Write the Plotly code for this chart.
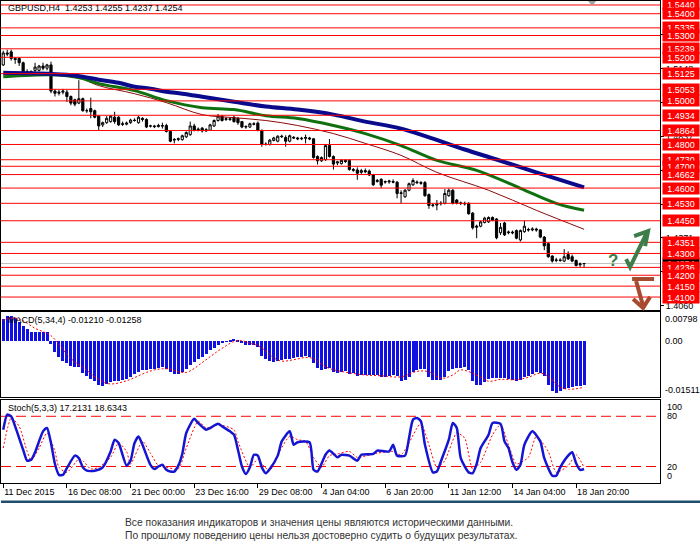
import plotly.graph_objects as go

W, H = 700, 552

# ---- data ----
bars = list(range(147))

opens = [
    1.5165, 1.5220, 1.5225, 1.5195, 1.5195, 1.5175, 1.5135, 1.5130, 1.5140, 1.5140,
    1.5160, 1.5150, 1.5165, 1.5045, 1.5035, 1.5040, 1.5040, 1.5020, 1.5005, 1.4990,
    1.5010, 1.4955, 1.4965, 1.4955, 1.4930, 1.4890, 1.4900, 1.4905, 1.4925, 1.4925,
    1.4895, 1.4893, 1.4900, 1.4912, 1.4900, 1.4920, 1.4915, 1.4885, 1.4885, 1.4882,
    1.4887, 1.4887, 1.4860, 1.4820, 1.4823, 1.4822, 1.4835, 1.4845, 1.4885, 1.4865,
    1.4875, 1.4862, 1.4865, 1.4885, 1.4910, 1.4930, 1.4915, 1.4918, 1.4925, 1.4920,
    1.4905, 1.4880, 1.4880, 1.4895, 1.4898, 1.4865, 1.4802, 1.4800, 1.4818, 1.4815,
    1.4838, 1.4832, 1.4815, 1.4833, 1.4830, 1.4826, 1.4828, 1.4830, 1.4826, 1.4745,
    1.4725, 1.4730, 1.4795, 1.4745, 1.4715, 1.4712, 1.4727, 1.4727, 1.4685, 1.4683,
    1.4672, 1.4680, 1.4678, 1.4660, 1.4630, 1.4640, 1.4630, 1.4628, 1.4630, 1.4627,
    1.4575, 1.4560, 1.4590, 1.4615, 1.4628, 1.4625, 1.4625, 1.4570, 1.4520, 1.4522,
    1.4528, 1.4530, 1.4565, 1.4590, 1.4545, 1.4532, 1.4530, 1.4530, 1.4485, 1.4420,
    1.4425, 1.4442, 1.4445, 1.4465, 1.4458, 1.4395, 1.4440, 1.4395, 1.4398, 1.4405,
    1.4362, 1.4400, 1.4410, 1.4408, 1.4412, 1.4408, 1.4375, 1.4345, 1.4288, 1.4268,
    1.4270, 1.4265, 1.4295, 1.4285, 1.4268, 1.4248, 1.4253,
]
highs = [
    1.5230, 1.5235, 1.5235, 1.5200, 1.5200, 1.5180, 1.5145, 1.5140, 1.5175, 1.5165,
    1.5175, 1.5170, 1.5180, 1.5055, 1.5050, 1.5055, 1.5050, 1.5025, 1.5010, 1.5095,
    1.5015, 1.4965, 1.5015, 1.4960, 1.4935, 1.4905, 1.4930, 1.4935, 1.4950, 1.4930,
    1.4905, 1.4905, 1.4918, 1.4920, 1.4930, 1.4925, 1.4920, 1.4890, 1.4890, 1.4895,
    1.4900, 1.4895, 1.4862, 1.4830, 1.4832, 1.4845, 1.4860, 1.4905, 1.4895, 1.4878,
    1.4880, 1.4875, 1.4895, 1.4915, 1.4940, 1.4935, 1.4925, 1.4925, 1.4932, 1.4925,
    1.4908, 1.4888, 1.4900, 1.4902, 1.4905, 1.4868, 1.4810, 1.4825, 1.4835, 1.4842,
    1.4845, 1.4842, 1.4845, 1.4838, 1.4835, 1.4835, 1.4845, 1.4835, 1.4830, 1.4750,
    1.4745, 1.4800, 1.4825, 1.4750, 1.4725, 1.4732, 1.4732, 1.4732, 1.4692, 1.4695,
    1.4688, 1.4690, 1.4685, 1.4665, 1.4642, 1.4645, 1.4635, 1.4638, 1.4640, 1.4632,
    1.4590, 1.4595, 1.4625, 1.4645, 1.4635, 1.4632, 1.4632, 1.4575, 1.4530, 1.4545,
    1.4540, 1.4595, 1.4598, 1.4595, 1.4550, 1.4538, 1.4538, 1.4535, 1.4490, 1.4432,
    1.4450, 1.4468, 1.4470, 1.4470, 1.4462, 1.4440, 1.4445, 1.4405, 1.4405, 1.4410,
    1.4410, 1.4450, 1.4418, 1.4420, 1.4418, 1.4412, 1.4380, 1.4350, 1.4292, 1.4280,
    1.4278, 1.4320, 1.4310, 1.4295, 1.4272, 1.4258, 1.4255,
]
lows = [
    1.5160, 1.5205, 1.5185, 1.5170, 1.5160, 1.5120, 1.5115, 1.5125, 1.5130, 1.5135,
    1.5140, 1.5140, 1.5035, 1.5020, 1.5025, 1.5030, 1.4995, 1.4980, 1.4975, 1.4985,
    1.4950, 1.4945, 1.4920, 1.4920, 1.4865, 1.4880, 1.4895, 1.4900, 1.4895, 1.4885,
    1.4885, 1.4888, 1.4895, 1.4905, 1.4895, 1.4905, 1.4875, 1.4878, 1.4875, 1.4878,
    1.4873, 1.4855, 1.4810, 1.4805, 1.4815, 1.4818, 1.4830, 1.4840, 1.4860, 1.4860,
    1.4855, 1.4858, 1.4862, 1.4880, 1.4905, 1.4905, 1.4908, 1.4908, 1.4900, 1.4890,
    1.4875, 1.4872, 1.4875, 1.4888, 1.4860, 1.4790, 1.4795, 1.4795, 1.4815, 1.4810,
    1.4830, 1.4790, 1.4810, 1.4825, 1.4820, 1.4820, 1.4805, 1.4820, 1.4735, 1.4708,
    1.4720, 1.4725, 1.4740, 1.4685, 1.4705, 1.4708, 1.4715, 1.4680, 1.4675, 1.4638,
    1.4665, 1.4668, 1.4655, 1.4610, 1.4625, 1.4600, 1.4620, 1.4620, 1.4622, 1.4553,
    1.4530, 1.4555, 1.4585, 1.4610, 1.4618, 1.4615, 1.4560, 1.4505, 1.4512, 1.4498,
    1.4520, 1.4525, 1.4560, 1.4525, 1.4525, 1.4522, 1.4520, 1.4478, 1.4410, 1.4370,
    1.4420, 1.4438, 1.4440, 1.4448, 1.4365, 1.4385, 1.4380, 1.4388, 1.4388, 1.4365,
    1.4355, 1.4395, 1.4400, 1.4402, 1.4400, 1.4370, 1.4315, 1.4280, 1.4258, 1.4260,
    1.4262, 1.4260, 1.4270, 1.4260, 1.4240, 1.4238, 1.4237,
]
closes = [
    1.5220, 1.5215, 1.5195, 1.5190, 1.5175, 1.5130, 1.5130, 1.5135, 1.5155, 1.5160,
    1.5150, 1.5165, 1.5045, 1.5035, 1.5040, 1.5045, 1.5020, 1.4990, 1.4985, 1.5010,
    1.4955, 1.4955, 1.4950, 1.4925, 1.4885, 1.4900, 1.4920, 1.4930, 1.4905, 1.4890,
    1.4893, 1.4898, 1.4912, 1.4910, 1.4925, 1.4915, 1.4880, 1.4885, 1.4882, 1.4887,
    1.4885, 1.4860, 1.4815, 1.4823, 1.4826, 1.4840, 1.4855, 1.4885, 1.4865, 1.4870,
    1.4862, 1.4868, 1.4890, 1.4910, 1.4930, 1.4910, 1.4918, 1.4915, 1.4905, 1.4900,
    1.4880, 1.4882, 1.4895, 1.4893, 1.4865, 1.4802, 1.4800, 1.4820, 1.4830, 1.4838,
    1.4836, 1.4815, 1.4840, 1.4830, 1.4826, 1.4828, 1.4832, 1.4826, 1.4740, 1.4725,
    1.4740, 1.4795, 1.4745, 1.4710, 1.4720, 1.4727, 1.4722, 1.4685, 1.4682, 1.4668,
    1.4680, 1.4675, 1.4660, 1.4615, 1.4635, 1.4613, 1.4628, 1.4632, 1.4627, 1.4575,
    1.4578, 1.4590, 1.4620, 1.4635, 1.4625, 1.4622, 1.4565, 1.4520, 1.4522, 1.4528,
    1.4530, 1.4575, 1.4590, 1.4530, 1.4532, 1.4530, 1.4528, 1.4482, 1.4418, 1.4425,
    1.4445, 1.4462, 1.4465, 1.4452, 1.4372, 1.4420, 1.4385, 1.4398, 1.4395, 1.4370,
    1.4405, 1.4425, 1.4408, 1.4412, 1.4408, 1.4375, 1.4335, 1.4285, 1.4265, 1.4270,
    1.4268, 1.4285, 1.4275, 1.4265, 1.4245, 1.4252, 1.4254,
]

# moving averages (sampled along the bars)
ma_blue_x = [0, 12, 16, 20, 24, 29, 33, 37, 41, 45, 50, 58, 66, 74, 83, 91, 100, 108, 116, 124, 134, 146]
ma_blue = [1.5129, 1.5124, 1.5120, 1.5111, 1.5097, 1.5083, 1.5065, 1.5056, 1.5042, 1.5033, 1.5019,
           1.4996, 1.4974, 1.4960, 1.4937, 1.4905, 1.4873, 1.4827, 1.4777, 1.4731, 1.4672, 1.4603]
ma_green_x = [0, 12, 16, 20, 24, 33, 41, 50, 58, 66, 74, 83, 91, 100, 109, 119, 130, 139, 146]
ma_green = [1.5111, 1.5120, 1.5115, 1.5102, 1.5079, 1.5047, 1.5001, 1.4969, 1.4960, 1.4932,
            1.4919, 1.4887, 1.4850, 1.4795, 1.4727, 1.4681, 1.4599, 1.4530, 1.4498]
ma_red_x = [0, 12, 19, 24, 33, 41, 50, 58, 66, 74, 83, 91, 100, 109, 122, 134, 146]
ma_red = [1.5120, 1.5120, 1.5106, 1.5070, 1.5033, 1.4992, 1.4937, 1.4923, 1.4910, 1.4887,
          1.4850, 1.4805, 1.4750, 1.4672, 1.4590, 1.4498, 1.4411]

# horizontal levels drawn on the chart
levels = [1.5440, 1.5400, 1.5335, 1.5300, 1.5239, 1.5200, 1.5125, 1.5053, 1.5000, 1.4934,
          1.4864, 1.4800, 1.4730, 1.4700, 1.4662, 1.4600, 1.4530, 1.4450, 1.4351, 1.4300,
          1.4236, 1.4200, 1.4150, 1.4100]
current_price = 1.4254
price_ticks = [1.4060, 1.4215, 1.4371, 1.4526, 1.4682, 1.4837, 1.4993, 1.5148, 1.5304]

# MACD(5,34,4)
macd_hist = [
    0.0061, 0.0070, 0.0070, 0.0063, 0.0052, 0.0042, 0.0033, 0.0025, 0.0025, 0.0025,
    0.0025, 0.0025, -0.0008, -0.0030, -0.0044, -0.0054, -0.0060, -0.0068, -0.0070, -0.0071,
    -0.0088, -0.0095, -0.0104, -0.0109, -0.0121, -0.0123, -0.0118, -0.0113, -0.0110, -0.0109,
    -0.0107, -0.0104, -0.0099, -0.0090, -0.0085, -0.0079, -0.0079, -0.0076, -0.0076, -0.0073,
    -0.0071, -0.0076, -0.0085, -0.0090, -0.0090, -0.0085, -0.0076, -0.0065, -0.0056, -0.0049,
    -0.0043, -0.0034, -0.0025, -0.0018, -0.0010, -0.0006, -0.0002, 0.0003, 0.0006, 0.0003,
    -0.0006, -0.0012, -0.0012, -0.0012, -0.0015, -0.0040, -0.0049, -0.0054, -0.0058, -0.0055,
    -0.0052, -0.0049, -0.0049, -0.0046, -0.0043, -0.0043, -0.0040, -0.0043, -0.0061, -0.0073,
    -0.0079, -0.0076, -0.0073, -0.0085, -0.0088, -0.0085, -0.0083, -0.0090, -0.0088, -0.0095,
    -0.0092, -0.0092, -0.0092, -0.0092, -0.0092, -0.0098, -0.0098, -0.0095, -0.0092, -0.0095,
    -0.0109, -0.0107, -0.0098, -0.0085, -0.0079, -0.0076, -0.0076, -0.0098, -0.0107, -0.0107,
    -0.0107, -0.0098, -0.0081, -0.0076, -0.0073, -0.0073, -0.0071, -0.0079, -0.0109, -0.0120,
    -0.0120, -0.0111, -0.0104, -0.0101, -0.0101, -0.0101, -0.0101, -0.0104, -0.0107, -0.0109,
    -0.0107, -0.0099, -0.0095, -0.0090, -0.0085, -0.0088, -0.0095, -0.0120, -0.0138, -0.0141,
    -0.0136, -0.0130, -0.0128, -0.0126, -0.0124, -0.0124, -0.0121,
]
macd_sig_x = [0, 2, 4, 6, 8, 10, 12, 14, 16, 18, 20, 22, 24, 26, 28, 30, 32, 34, 36, 38, 40,
              42, 44, 46, 48, 50, 52, 54, 56, 58, 60, 62, 64, 66, 68, 70, 72, 74, 76, 78, 80,
              82, 84, 87, 91, 95, 100, 104, 107, 110, 113, 115, 119, 122, 125, 129, 132, 135,
              137, 140, 142, 146]
macd_sig = [0.0058, 0.0064, 0.0062, 0.0050, 0.0036, 0.0027, 0.0016, -0.0008, -0.0035, -0.0056,
            -0.0070, -0.0088, -0.0104, -0.0115, -0.0116, -0.0111, -0.0104, -0.0094, -0.0085,
            -0.0078, -0.0075, -0.0076, -0.0083, -0.0085, -0.0074, -0.0058, -0.0042, -0.0026,
            -0.0012, 0.0000, 0.0002, -0.0005, -0.0011, -0.0026, -0.0045, -0.0054, -0.0052,
            -0.0048, -0.0044, -0.0047, -0.0062, -0.0074, -0.0080, -0.0086, -0.0092, -0.0094,
            -0.0097, -0.0082, -0.0083, -0.0101, -0.0092, -0.0078, -0.0092, -0.0109, -0.0104,
            -0.0105, -0.0098, -0.0087, -0.0096, -0.0125, -0.0131, -0.0126]

# Stochastic(5,3,3)
stoch_x = [0, 1, 2, 3, 5, 6, 7, 8, 10, 11, 12, 13, 14, 15, 16, 18, 19, 20, 21, 23, 25, 27, 28,
           29, 31, 32, 33, 34, 35, 37, 38, 39, 40, 41, 42, 43, 44, 45, 46, 48, 49, 51, 52, 54,
           55, 57, 58, 59, 60, 61, 62, 63, 64, 65, 66, 67, 69, 70, 72, 73, 74, 77, 78, 79, 81,
           82, 84, 85, 87, 89, 90, 93, 94, 97, 98, 99, 101, 102, 103, 104, 105, 106, 108, 109,
           110, 112, 113, 114, 115, 117, 118, 119, 120, 122, 123, 125, 126, 127, 128, 129, 130,
           131, 133, 135, 136, 138, 139, 140, 142, 143, 144, 145, 146]
stoch_main = [64, 82, 80, 68, 40, 27, 28, 37, 62, 66, 48, 23, 10, 10, 18, 33, 30, 19, 15, 15, 19,
              38, 52, 48, 21, 27, 48, 56, 46, 22, 17, 20, 22, 16, 14, 14, 21, 35, 60, 77, 72, 64,
              66, 71, 68, 62, 58, 40, 20, 11, 19, 34, 33, 19, 12, 17, 33, 50, 62, 46, 49, 49, 16,
              14, 34, 39, 31, 34, 33, 27, 34, 35, 39, 38, 46, 33, 33, 54, 76, 78, 74, 46, 13, 14,
              26, 52, 72, 66, 30, 13, 12, 23, 42, 58, 72, 71, 50, 42, 25, 16, 22, 46, 62, 50, 30,
              9, 9, 19, 33, 37, 24, 16, 17]
stoch_sig_x = [0, 2, 4, 6, 7, 9, 11, 13, 14, 16, 19, 20, 22, 24, 27, 29, 31, 32, 35, 37, 39, 41,
               44, 46, 49, 51, 54, 58, 59, 62, 64, 65, 67, 69, 72, 74, 76, 78, 80, 82, 84, 87, 89,
               94, 98, 100, 104, 105, 107, 109, 111, 114, 116, 118, 120, 123, 125, 127, 129, 132,
               134, 137, 139, 142, 144, 146]
stoch_sig = [42, 78, 68, 38, 27, 42, 60, 38, 19, 13, 29, 27, 17, 19, 31, 48, 38, 23, 50, 36, 21,
             19, 17, 42, 74, 66, 70, 64, 50, 19, 29, 23, 15, 34, 56, 52, 50, 31, 19, 33, 35, 38,
             31, 36, 38, 34, 66, 72, 46, 19, 27, 60, 54, 17, 25, 58, 70, 46, 23, 31, 56, 38, 13,
             21, 34, 19]

date_ticks = [0, 16, 32, 48, 64, 80, 96, 112, 128, 144]
date_labels = ["11 Dec 2015", "16 Dec 08:00", "21 Dec 00:00", "23 Dec 16:00", "29 Dec 08:00",
               "4 Jan 04:00", "6 Jan 20:00", "11 Jan 12:00", "14 Jan 04:00", "18 Jan 20:00"]

# ---- layout helpers (pixels -> paper) ----
def px(x):
    return x / W


def py(y):
    return 1 - y / H


X_END = 660
x_range = [-0.565, 165.1]
FONT = "Liberation Sans, Arial, sans-serif"

fig = go.Figure()

# Price bars
fig.add_trace(go.Candlestick(
    x=bars, open=opens, high=highs, low=lows, close=closes,
    increasing=dict(fillcolor="white", line=dict(color="black", width=1)),
    decreasing=dict(fillcolor="black", line=dict(color="black", width=1)),
    whiskerwidth=0, xaxis="x", yaxis="y", hoverinfo="skip",
))

# Moving averages
fig.add_trace(go.Scatter(x=ma_red_x, y=ma_red, mode="lines", line=dict(color="#8B0A0A", width=1, shape="spline"),
                         xaxis="x", yaxis="y", hoverinfo="skip"))
fig.add_trace(go.Scatter(x=ma_green_x, y=ma_green, mode="lines", line=dict(color="#0F700F", width=3, shape="spline"),
                         xaxis="x", yaxis="y", hoverinfo="skip"))
fig.add_trace(go.Scatter(x=ma_blue_x, y=ma_blue, mode="lines", line=dict(color="#0A0A8C", width=4, shape="spline"),
                         xaxis="x", yaxis="y", hoverinfo="skip"))

# MACD
fig.add_trace(go.Bar(x=bars, y=macd_hist, width=0.75, marker=dict(color="#1010E0", line=dict(width=0)),
                     xaxis="x2", yaxis="y2", hoverinfo="skip"))
fig.add_trace(go.Scatter(x=macd_sig_x, y=macd_sig, mode="lines",
                         line=dict(color="#FF0000", width=1, dash="2px,2px", shape="spline"),
                         xaxis="x2", yaxis="y2", hoverinfo="skip"))

# Stochastic
fig.add_trace(go.Scatter(x=stoch_sig_x, y=stoch_sig, mode="lines",
                         line=dict(color="#FF0000", width=1, dash="2px,2px", shape="spline", smoothing=0.6),
                         xaxis="x3", yaxis="y3", hoverinfo="skip"))
fig.add_trace(go.Scatter(x=stoch_x, y=stoch_main, mode="lines",
                         line=dict(color="#1414D2", width=2.5, shape="spline", smoothing=0.6),
                         xaxis="x3", yaxis="y3", hoverinfo="skip"))

shapes = []
for lv in levels:
    shapes.append(dict(type="line", xref="x domain", yref="y", x0=0, x1=1, y0=lv, y1=lv,
                       line=dict(color="#FF0000", width=1), layer="above"))
shapes.append(dict(type="line", xref="x domain", yref="y", x0=0, x1=1, y0=current_price, y1=current_price,
                   line=dict(color="#C0C0C0", width=1), layer="below"))
for lv in (80, 20):
    shapes.append(dict(type="line", xref="x3 domain", yref="y3", x0=0, x1=1, y0=lv, y1=lv,
                       line=dict(color="#FF0000", width=1, dash="10px,5px"), layer="below"))

# chart-shift marker
shapes.append(dict(type="path", xref="paper", yref="paper",
                   path=f"M {px(588)},{py(0)} L {px(596)},{py(0)} L {px(592)},{py(5)} Z",
                   fillcolor="#A0A0A0", line=dict(width=0)))


def stroke(points, color, width=4):
    d = "M " + " L ".join(f"{px(a)},{py(b)}" for a, b in points)
    return dict(type="path", xref="paper", yref="paper", path=d,
                line=dict(color=color, width=width), layer="above")


green = "#3C7D4A"
brown = "#A64A30"
shapes.append(stroke([(626, 259), (630, 267), (647, 232)], green))
shapes.append(stroke([(634, 236), (648, 231), (645, 246)], green))
shapes.append(stroke([(632, 279), (654, 279)], brown))
shapes.append(stroke([(636, 281), (643, 306)], brown))
shapes.append(stroke([(633, 299), (643, 308), (650, 297)], brown))

# separator above the disclaimer
shapes.append(dict(type="line", xref="paper", yref="paper", x0=0, x1=1, y0=py(502.5), y1=py(502.5),
                   line=dict(color="#1F4E6E", width=2.5)))

annotations = []
annotations.append(dict(x=px(620), y=py(260), xref="paper", yref="paper", text="<b>?</b>", showarrow=False,
                        yanchor="middle", font=dict(family=FONT, size=17, color=green)))

# price labels on the right scale
annotations.append(dict(x=px(662), y=current_price, xref="paper", yref="y", text=f"{current_price:.4f}",
                        showarrow=False, xanchor="left", yanchor="middle", bgcolor="black",
                        font=dict(family=FONT, size=9, color="white"), width=34, height=9, borderpad=1))
for lv in levels:
    annotations.append(dict(x=px(662), y=lv, xref="paper", yref="y", text=f"{lv:.4f}",
                            showarrow=False, xanchor="left", yanchor="middle", bgcolor="#FF0000",
                            font=dict(family=FONT, size=9, color="white"), width=34, height=9, borderpad=1))

# indicator scale labels
macd_top, macd_bottom = 0.00798, -0.01511
for val, txt, anc in [(macd_top, "0.00798", "top"), (0.0, "0.00", "middle"), (macd_bottom, "-0.01511", "bottom")]:
    annotations.append(dict(x=px(663), y=val, xref="paper", yref="y2", text=txt, showarrow=False,
                            xanchor="left", yanchor=anc, font=dict(family=FONT, size=9, color="black")))
for val, txt, anc in [(100, "100", "top"), (80, "80", "middle"), (20, "20", "middle"), (0, "0", "bottom")]:
    annotations.append(dict(x=px(665), y=val, xref="paper", yref="y3", text=txt, showarrow=False,
                            xanchor="left", yanchor=anc, font=dict(family=FONT, size=9, color="black")))

# panel captions
annotations.append(dict(x=px(5), y=py(7), xref="paper", yref="paper", showarrow=False, xanchor="left",
                        yanchor="middle", text="GBPUSD,H4  1.4253 1.4255 1.4237 1.4254",
                        font=dict(family=FONT, size=9, color="black")))
annotations.append(dict(x=px(5), y=py(320), xref="paper", yref="paper", showarrow=False, xanchor="left",
                        yanchor="middle", text="MACD(5,34,4) -0.01210 -0.01258",
                        font=dict(family=FONT, size=9, color="black")))
annotations.append(dict(x=px(5), y=py(408), xref="paper", yref="paper", showarrow=False, xanchor="left",
                        yanchor="middle", text="Stoch(5,3,3) 17.2131 18.6343",
                        font=dict(family=FONT, size=9, color="black")))

# disclaimer
annotations.append(dict(x=px(122), y=py(523), xref="paper", yref="paper", showarrow=False, xanchor="left",
                        yanchor="middle",
                        text="Все показания индикаторов и значения цены являются историческими данными.",
                        font=dict(family=FONT, size=10.3, color="#333333")))
annotations.append(dict(x=px(122), y=py(536), xref="paper", yref="paper", showarrow=False, xanchor="left",
                        yanchor="middle",
                        text="По прошлому поведению цены нельзя достоверно судить о будущих результатах.",
                        font=dict(family=FONT, size=10.3, color="#333333")))

frame = dict(showline=True, linecolor="black", linewidth=1, mirror=True, showgrid=False, zeroline=False)

fig.update_layout(
    width=W, height=H, margin=dict(l=0, r=0, t=0, b=0),
    paper_bgcolor="white", plot_bgcolor="white", showlegend=False,
    font=dict(family=FONT, size=9, color="black"),
    boxgap=0.45, boxgroupgap=0,
    xaxis=dict(domain=[0, px(X_END)], range=x_range, showticklabels=False, ticks="",
               rangeslider=dict(visible=False), anchor="y", **frame),
    yaxis=dict(domain=[py(310), 1], range=[1.40411, 1.54583], side="right", anchor="x",
               tickvals=price_ticks, ticktext=[f"{v:.4f}" for v in price_ticks],
               ticks="outside", ticklen=3, tickcolor="black", tickfont=dict(size=9), **frame),
    xaxis2=dict(domain=[0, px(X_END)], range=x_range, showticklabels=False, ticks="", anchor="y2", **frame),
    yaxis2=dict(domain=[py(397), py(312.5)], range=[macd_bottom, macd_top], side="right", anchor="x2",
                showticklabels=False, ticks="", **frame),
    xaxis3=dict(domain=[0, px(X_END)], range=x_range, anchor="y3", tickvals=date_ticks, ticktext=date_labels,
                ticks="outside", ticklen=4, tickcolor="black", ticklabelposition="outside right",
                tickfont=dict(size=9), **frame),
    yaxis3=dict(domain=[py(484), py(400)], range=[0, 100], side="right", anchor="x3",
                showticklabels=False, ticks="", **frame),
    shapes=shapes, annotations=annotations, bargap=0,
)

# page body margin would shift the fixed-size figure, so drop it
fig.write_html("out.html", config={"displayModeBar": False},
               post_script="document.body.style.margin='0';")
